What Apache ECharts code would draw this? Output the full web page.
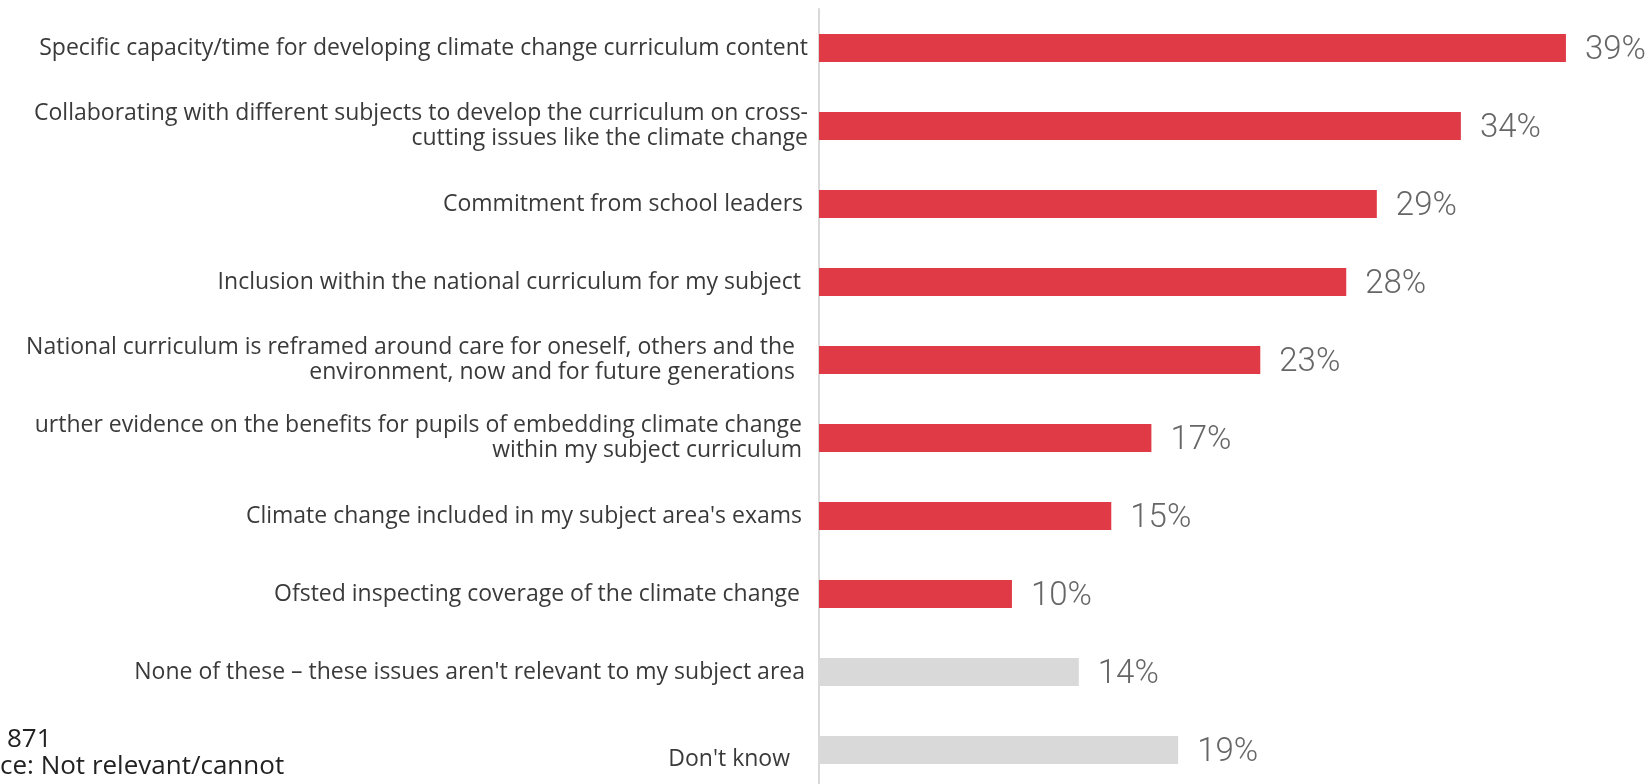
<!DOCTYPE html>
<html>
<head>
<meta charset="utf-8">
<script src="https://cdn.jsdelivr.net/npm/echarts@6/dist/echarts.min.js"></script>
<style>
  html, body { margin: 0; padding: 0; background: #fff; }
  #chart { width: 1650px; height: 784px; }
</style>
</head>
<body>
<div id="chart"></div>
<script>
// categories, top to bottom
const categories = [
  "Specific capacity/time for developing climate change curriculum content",
  "Collaborating with different subjects to develop the curriculum on cross-\ncutting issues like the climate change",
  "Commitment from school leaders",
  "Inclusion within the national curriculum for my subject",
  "National curriculum is reframed around care for oneself, others and the\nenvironment, now and for future generations",
  "urther evidence on the benefits for pupils of embedding climate change\nwithin my subject curriculum",
  "Climate change included in my subject area's exams",
  "Ofsted inspecting coverage of the climate change",
  "None of these \u2013 these issues aren't relevant to my subject area",
  "Don't know"
];
// share of respondents (%)
const shares = [39.1, 33.6, 29.2, 27.6, 23.1, 17.4, 15.3, 10.1, 13.6, 18.8];
// the last two answers are not barriers, drawn in grey
const isOther = [false, false, false, false, false, false, false, false, true, true];
// per-label right offsets as in the source slide
const labelPadRight = [0, 0, 5, 7, 13, 6, 6, 8, 3, 18];
const footNotes = ["871", "ce: Not relevant/cannot"];

const RED = "#E13A47";
const GREY = "#D9D9D9";

const myChart = echarts.init(document.getElementById("chart"));

const option = {
  animation: false,
  backgroundColor: "#fff",
  grid: {
    left: 819, right: 0, top: 9, height: 780,
    containLabel: false,
    outerBoundsMode: "none"
  },
  xAxis: {
    type: "value",
    min: 0,
    max: 43.5,
    show: false
  },
  yAxis: {
    type: "category",
    inverse: true,
    data: categories.map((c, i) => ({
      value: c,
      textStyle: { padding: [0, labelPadRight[i], 0, 0] }
    })),
    axisLine: { show: true, lineStyle: { color: GREY, width: 2 } },
    axisTick: { show: false },
    splitLine: { show: false },
    axisLabel: {
      margin: 11,
      color: "#3a3a3a",
      fontFamily: "Open Sans",
      fontSize: 23,
      lineHeight: 25,
      align: "right",
      // "Don't know" sits a little lower than its bar in the source
      formatter: v => (v === "Don't know" ? "{low|" + v + "}" : v),
      rich: {
        low: {
          color: "#3a3a3a",
          fontFamily: "Open Sans",
          fontSize: 23,
          lineHeight: 25,
          padding: [18, 0, 0, 0]
        }
      }
    }
  },
  series: [
    {
      type: "bar",
      barWidth: 28,
      data: shares.map((v, i) => ({
        value: v,
        itemStyle: { color: isOther[i] ? GREY : RED }
      })),
      label: {
        show: true,
        position: "right",
        distance: 19,
        offset: [0, 3],
        color: "#666",
        fontFamily: "Roboto",
        fontWeight: 300,
        fontSize: 33,
        formatter: p => Math.round(p.value) + "%"
      }
    }
  ],
  graphic: [
    {
      type: "text",
      left: 7,
      top: 727,
      style: { text: footNotes[0], font: "26px 'Open Sans'", fill: "#222" }
    },
    {
      type: "text",
      left: 0,
      top: 754,
      style: { text: footNotes[1], font: "26px 'Open Sans'", fill: "#222" }
    }
  ]
};

option && myChart.setOption(option);
window.addEventListener("resize", myChart.resize);
</script>
</body>
</html>
